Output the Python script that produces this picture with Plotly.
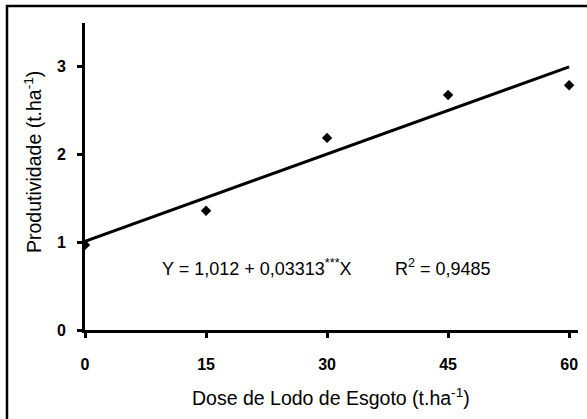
import plotly.graph_objects as go

# Data
doses = [0, 15, 30, 45, 60]
produtividade = [0.97, 1.36, 2.19, 2.68, 2.79]
intercept = 1.012
slope = 0.03313
x_ticks = [0, 15, 30, 45, 60]
y_ticks = [0, 1, 2, 3]

fit_x = [0, 60]
fit_y = [intercept + slope * v for v in fit_x]

W, H = 587, 419
L, R, T, B = 85, 9, 23, 89
pw, ph = W - L - R, H - T - B

def px(xp):
    return (xp - L) / pw

def py(yp):
    return (H - B - yp) / ph

fig = go.Figure()
fig.add_trace(go.Scatter(x=fit_x, y=fit_y, mode="lines",
                         line=dict(color="black", width=3), showlegend=False))
fig.add_trace(go.Scatter(x=doses, y=produtividade, mode="markers",
                         marker=dict(symbol="diamond", size=8, color="black"),
                         showlegend=False))

axis_font = dict(family="Arial, Liberation Sans", size=16, color="black", weight="bold")
fig.update_xaxes(range=[0, 61.1], tickvals=x_ticks, showgrid=False, zeroline=False,
                 showline=True, linecolor="black", linewidth=3,
                 ticks="outside", ticklen=5, tickwidth=3, tickcolor="black",
                 tickfont=axis_font, ticklabelstandoff=13)
fig.update_yaxes(range=[0, 3.5], tickvals=y_ticks, showgrid=False, zeroline=False,
                 showline=True, linecolor="black", linewidth=3,
                 ticks="outside", ticklen=5, tickwidth=3, tickcolor="black",
                 tickfont=axis_font, ticklabelstandoff=8)

title_font = dict(family="Arial, Liberation Sans", size=19.5, color="black")
eq_font = dict(family="Arial, Liberation Sans", size=18, color="black")
fig.update_layout(
    width=W, height=H,
    margin=dict(l=L, r=R, t=T, b=B),
    paper_bgcolor="white", plot_bgcolor="white",
    annotations=[
        dict(text="Produtividade (t.ha<sup>-1</sup>)", xref="paper", yref="paper",
             x=px(33), y=py(162), textangle=-90, showarrow=False, font=title_font,
             xanchor="center", yanchor="middle"),
        dict(text="Dose de Lodo de Esgoto (t.ha<sup>-1</sup>)", xref="paper", yref="paper",
             x=px(331), y=py(397), showarrow=False, font=title_font,
             xanchor="center", yanchor="middle"),
        dict(text="Y = 1,012 + 0,03313<sup>***</sup>X", xref="paper", yref="paper",
             x=px(160), y=py(267), showarrow=False, font=eq_font,
             xanchor="left", yanchor="middle"),
        dict(text="R<sup>2</sup> = 0,9485", xref="paper", yref="paper",
             x=px(393), y=py(267), showarrow=False, font=eq_font,
             xanchor="left", yanchor="middle"),
    ],
    shapes=[
        dict(type="line", xref="paper", yref="paper",
             x0=px(6), x1=px(587), y0=py(6), y1=py(6),
             line=dict(color="black", width=2.5), layer="below"),
        dict(type="line", xref="paper", yref="paper",
             x0=px(7), x1=px(7), y0=py(5), y1=py(419),
             line=dict(color="black", width=2.5), layer="below"),
    ],
)

fig.write_html("out.html")
